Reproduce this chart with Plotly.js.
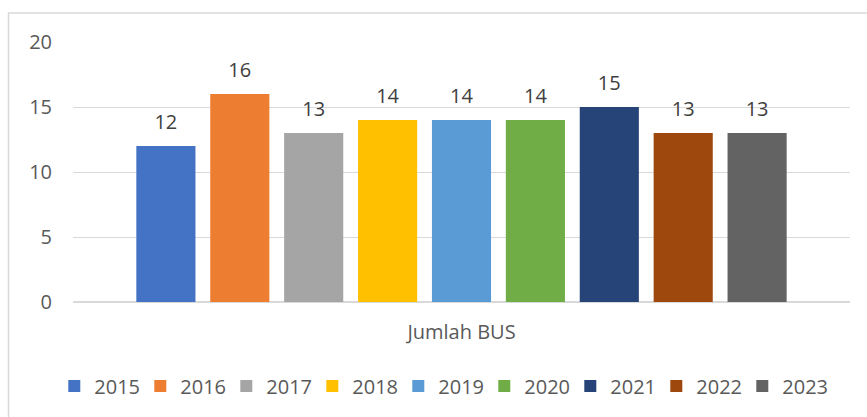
<!DOCTYPE html>
<html>
<head>
<meta charset="utf-8">
<script src="https://cdn.plot.ly/plotly-3.0.1.min.js"></script>
<style>html,body{margin:0;padding:0;background:#fff;}#chart{width:867px;height:417px;}</style>
</head>
<body>
<div id="chart"></div>
<script>
const category = ['Jumlah BUS'];
const years = ['2015','2016','2017','2018','2019','2020','2021','2022','2023'];
const values = [12, 16, 13, 14, 14, 14, 15, 13, 13];
const colors = ['#4472C4','#ED7D31','#A5A5A5','#FFC000','#5B9BD5','#70AD47','#264478','#9E480E','#636363'];
const yTicks = [0, 5, 10, 15, 20];

const FONT = 'Open Sans, Liberation Sans, sans-serif';
const bars = years.map((yr, i) => ({
  type: 'bar',
  name: yr,
  x: category,
  y: [values[i]],
  marker: {color: colors[i]},
  offsetgroup: yr,
  alignmentgroup: 'a',
  hoverinfo: 'none'
}));
const labels = years.map((yr, i) => ({
  type: 'scatter',
  mode: 'markers+text',
  name: yr + ' label',
  showlegend: false,
  x: category,
  y: [values[i]],
  text: [String(values[i])],
  textposition: 'top center',
  textfont: {family: FONT, size: 20, color: '#404040'},
  marker: {size: 18, color: 'rgba(0,0,0,0)'},
  offsetgroup: yr,
  alignmentgroup: 'a',
  cliponaxis: false,
  hoverinfo: 'none'
}));

const layout = {
  width: 867, height: 417,
  margin: {l: 73, r: 17, t: 42, b: 115},
  paper_bgcolor: '#fff', plot_bgcolor: '#fff',
  font: {family: FONT, size: 20, color: '#595959'},
  barmode: 'group',
  bargap: 0.144,
  bargroupgap: 0.2,
  scattermode: 'group',
  scattergap: 0.144,
  showlegend: true,
  legend: {orientation: 'h', x: 0.474, xanchor: 'center', y: -0.323, yanchor: 'middle',
           entrywidth: 41, entrywidthmode: 'pixels', itemwidth: 30,
           font: {family: FONT, size: 20, color: '#595959'}, traceorder: 'normal'},
  xaxis: {type: 'category', showgrid: false, zeroline: false, showline: false,
          ticks: '', ticklabelstandoff: 16, tickfont: {family: FONT, size: 20, color: '#595959'}},
  yaxis: {range: [0, 20], tickvals: yTicks, showgrid: true, gridcolor: '#d9d9d9', gridwidth: 1,
          zeroline: true, zerolinecolor: '#d9d9d9', zerolinewidth: 2, showline: false,
          ticks: '', ticklabelstandoff: 20, tickfont: {family: FONT, size: 20, color: '#595959'}},
  shapes: [{type: 'rect', xref: 'paper', yref: 'paper', x0: -0.0830, x1: 1.03, y0: -0.46, y1: 1.1115,
            line: {color: '#d9d9d9', width: 1.5}, fillcolor: 'rgba(0,0,0,0)', layer: 'below'}]
};

Plotly.newPlot('chart', bars.concat(labels), layout, {staticPlot: true});
</script>
</body>
</html>
